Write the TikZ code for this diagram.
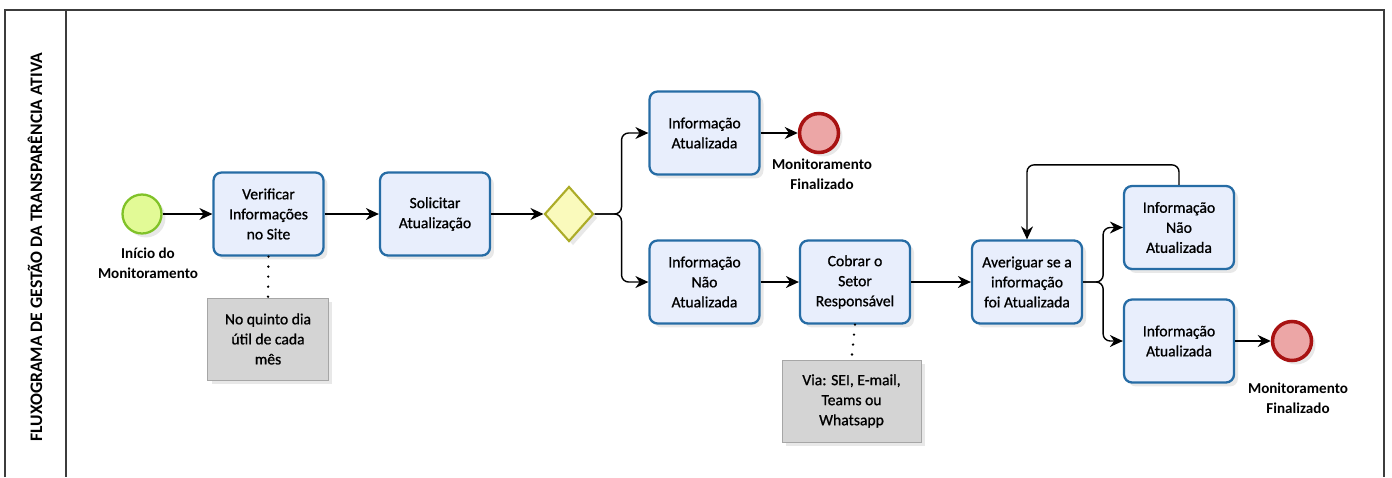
\documentclass[tikz,border=0pt]{standalone}
\usepackage{fontspec}
\setmainfont{Carlito}
\newfontfamily\taskfont[FakeBold=0.9]{Carlito}
\usetikzlibrary{shapes.geometric, arrows.meta, shadows}

\definecolor{taskfill}{RGB}{232,238,252}
\definecolor{taskdraw}{RGB}{38,108,165}
\definecolor{startfill}{RGB}{226,250,150}
\definecolor{startdraw}{RGB}{128,194,40}
\definecolor{endfill}{RGB}{236,166,166}
\definecolor{enddraw}{RGB}{168,18,18}
\definecolor{gwfill}{RGB}{250,250,188}
\definecolor{gwdraw}{RGB}{172,172,40}
\definecolor{notefill}{RGB}{212,212,212}
\definecolor{framecol}{RGB}{60,60,60}

\tikzset{
  softshadow/.style={drop shadow={shadow xshift=0.08cm, shadow yshift=-0.08cm, opacity=0.18, fill=gray}},
  task/.style={draw=taskdraw, fill=taskfill, line width=1.3pt, rounded corners=0.16cm,
    minimum width=2.2cm, minimum height=1.66cm, align=center, inner sep=0pt,
    font=\taskfont\fontsize{8.9}{11.4}\selectfont, softshadow},
  startev/.style={circle, draw=startdraw, fill=startfill, line width=1.3pt, minimum size=0.78cm, softshadow},
  endev/.style={circle, draw=enddraw, fill=endfill, line width=2pt, minimum size=0.78cm, softshadow},
  gateway/.style={diamond, draw=gwdraw, fill=gwfill, line width=1.2pt, minimum width=0.98cm,
    minimum height=1.1cm, inner sep=0pt, softshadow},
  evlabel/.style={align=center, font=\bfseries\fontsize{8.6}{11.4}\selectfont},
  note/.style={draw=gray!70, fill=notefill, minimum height=1.64cm, align=center,
    font=\taskfont\fontsize{8.9}{11.4}\selectfont, softshadow},
  flow/.style={line width=0.8pt, -{Stealth[length=2.6mm, width=2.4mm]}, rounded corners=4pt},
  assoc/.style={line width=1.5pt, line cap=round, dash pattern=on 0pt off 5.7pt},
  frame/.style={draw=framecol, line width=0.9pt}
}

\begin{document}
\begin{tikzpicture}[x=0.02cm, y=-0.02cm]
  \useasboundingbox (0,0) rectangle (1392,477);

  % Pool and lane
  \draw[frame] (5,477) -- (5,10) -- (1384,10) -- (1384,477);
  \draw[frame] (66,10) -- (66,477);
  \node[rotate=90, font=\bfseries\fontsize{10}{11}\selectfont] (title) at (35,247)
    {FLUXOGRAMA DE GESTÃO DA TRANSPARÊNCIA ATIVA};

  % Main row
  \node[startev] (start) at (142,214) {};
  \node[evlabel] (lblStart) at (148,263) {Início do\\Monitoramento};
  \node[task] (verif) at (268.5,214) {Verificar\\Informações\\no Site};
  \node[task] (solic) at (435,214) {Solicitar\\Atualização};
  \node[gateway] (gw) at (569,214) {};

  % Upper branch
  \node[task] (infoA1) at (704.5,133) {Informação\\Atualizada};
  \node[endev] (end1) at (819,133) {};
  \node[evlabel] (lblEnd1) at (822,174) {Monitoramento\\Finalizado};

  % Lower branch
  \node[task] (infoN1) at (704.5,282) {Informação\\Não\\Atualizada};
  \node[task] (cobrar) at (855,282) {Cobrar o\\Setor\\Responsável};
  \node[task] (aver) at (1027,282) {Averiguar se a\\informação\\foi Atualizada};
  \node[task] (infoN2) at (1179,227.5) {Informação\\Não\\Atualizada};
  \node[task] (infoA2) at (1179,341) {Informação\\Atualizada};
  \node[endev] (end2) at (1292,341) {};
  \node[evlabel] (lblEnd2) at (1298,398) {Monitoramento\\Finalizado};

  % Annotations
  \node[note, minimum width=2.42cm] (note1) at (268,339) {No quinto dia\\útil de cada\\mês};
  \node[note, minimum width=2.78cm] (note2) at (851.5,401) {Via: SEI, E-mail,\\Teams ou\\Whatsapp};
  \draw[assoc] (verif.south) -- (note1.north);
  \draw[assoc] (cobrar.south) -- (note2.north);

  % Sequence flows
  \draw[flow] (start) -- (verif);
  \draw[flow] (verif) -- (solic);
  \draw[flow] (solic) -- (gw);
  \draw[flow] (gw.east) -- ++(27,0) |- (infoA1.west);
  \draw[flow] (gw.east) -- ++(27,0) |- (infoN1.west);
  \draw[flow] (infoA1) -- (end1);
  \draw[flow] (infoN1) -- (cobrar);
  \draw[flow] (cobrar) -- (aver);
  \draw[flow] (aver.east) -- ++(20,0) |- (infoN2.west);
  \draw[flow] (aver.east) -- ++(20,0) |- (infoA2.west);
  \draw[flow] (infoA2) -- (end2);
  \draw[flow] (infoN2.north) -- ++(0,-20) -| (aver.north);
\end{tikzpicture}
\end{document}
